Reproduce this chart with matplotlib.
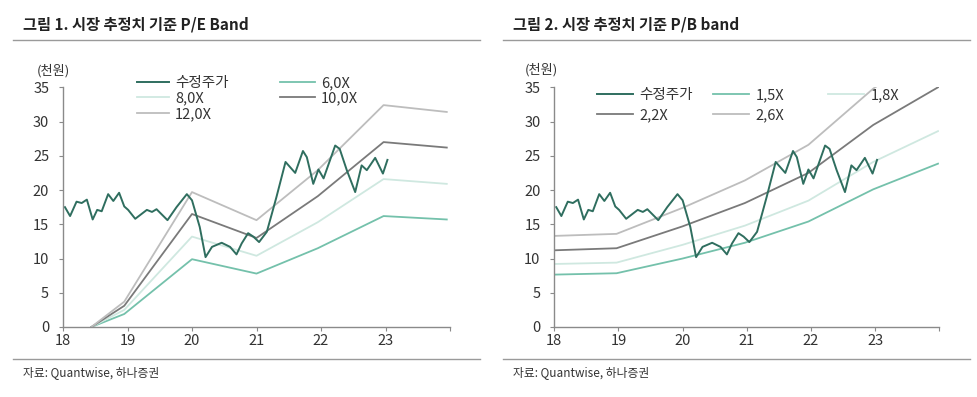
import matplotlib
matplotlib.use('Agg')
import matplotlib.pyplot as plt
from matplotlib.lines import Line2D

plt.rcParams['font.family'] = ['Noto Sans CJK KR', 'DejaVu Sans']

# 수정주가 (천원), 연도 소수점 위치
price_x = [2018.03, 2018.11, 2018.21, 2018.29, 2018.37, 2018.46, 2018.53, 2018.60,
           2018.70, 2018.78, 2018.87, 2018.95, 2019.01, 2019.12, 2019.30, 2019.38,
           2019.45, 2019.62, 2019.76, 2019.92, 2020.00, 2020.12, 2020.21, 2020.31,
           2020.46, 2020.59, 2020.69, 2020.77, 2020.87, 2020.95, 2021.04, 2021.16,
           2021.24, 2021.31, 2021.45, 2021.60, 2021.72, 2021.78, 2021.88, 2021.96,
           2022.04, 2022.22, 2022.29, 2022.40, 2022.53, 2022.63, 2022.71, 2022.84,
           2022.96, 2023.03]
price = [17.5, 16.2, 18.3, 18.1, 18.6, 15.7, 17.1, 16.9,
         19.4, 18.4, 19.6, 17.6, 17.1, 15.8, 17.1, 16.8,
         17.2, 15.6, 17.5, 19.4, 18.5, 14.6, 10.2, 11.7,
         12.3, 11.7, 10.6, 12.2, 13.7, 13.2, 12.4, 13.9,
         16.6, 19.0, 24.1, 22.5, 25.7, 24.8, 20.9, 23.0,
         21.7, 26.5, 26.0, 22.9, 19.7, 23.6, 22.9, 24.7,
         22.4, 24.4]

# P/E band
pe_x = [2018.44, 2018.95, 2020.0, 2021.0, 2021.95, 2022.97, 2023.95]
pe_6 = [0, 1.9, 9.9, 7.8, 11.5, 16.2, 15.7]
pe_8 = [0, 2.5, 13.2, 10.4, 15.3, 21.6, 20.9]
pe_10 = [0, 3.1, 16.5, 13.0, 19.1, 27.0, 26.2]
pe_12 = [0, 3.7, 19.7, 15.6, 22.9, 32.4, 31.4]

# P/B band
pb_x = [2018.0, 2018.97, 2020.0, 2020.97, 2021.96, 2022.97, 2023.98]
pb_15 = [7.65, 7.85, 10.0, 12.3, 15.4, 20.1, 23.85]
pb_18 = [9.2, 9.4, 12.0, 14.8, 18.45, 24.1, 28.6]
pb_22 = [11.2, 11.5, 14.7, 18.1, 22.5, 29.5, 35.0]
pb_26 = [13.3, 13.6, 17.4, 21.4, 26.6, 34.8, 41.3]

year_ticks = [2018, 2019, 2020, 2021, 2022, 2023, 2024]
year_labels = ['18', '19', '20', '21', '22', '23', '']
y_ticks = [0, 5, 10, 15, 20, 25, 30, 35]

C_PRICE = '#2f6e5f'
C_1 = '#74c1ab'
C_2 = '#cfe8e0'
C_3 = '#7a7a7a'
C_4 = '#bdbdbd'
TXT = '#333333'
W, H = 978, 397


def fx(px):
    return px / W


def fy(py):
    return 1 - py / H


def style_axes(ax):
    for s in ['top', 'right']:
        ax.spines[s].set_visible(False)
    for s in ['left', 'bottom']:
        ax.spines[s].set_color('#8a8a8a')
        ax.spines[s].set_linewidth(1.0)
    ax.set_xlim(2018, 2024)
    ax.set_ylim(0, 35)
    ax.set_xticks(year_ticks)
    ax.set_xticklabels(year_labels)
    ax.set_yticks(y_ticks)
    ax.tick_params(axis='y', direction='out', length=3, pad=7, color='#8a8a8a',
                   labelsize=10.5, labelcolor=TXT)
    ax.tick_params(axis='x', direction='out', length=3, pad=2, color='#8a8a8a',
                   labelsize=10.5, labelcolor=TXT)


def add_legend_column(fig, handles, x, y, hlen, spacing):
    fig.legend(handles=handles, loc='upper left', bbox_to_anchor=(fx(x), fy(y)),
               bbox_transform=fig.transFigure, frameon=False, fontsize=10.5,
               handlelength=hlen, handletextpad=0.4, borderpad=0, borderaxespad=0,
               labelspacing=spacing, labelcolor=TXT)


fig = plt.figure(figsize=(W / 100, H / 100), dpi=100)

# ---- 그림 1 ----
ax1 = fig.add_axes([fx(63), fy(327), fx(450 - 63), fy(87.3) - fy(327)])
style_axes(ax1)
h6, = ax1.plot(pe_x, pe_6, color=C_1, lw=1.3, label='6,0X')
h8, = ax1.plot(pe_x, pe_8, color=C_2, lw=1.3, label='8,0X')
h10, = ax1.plot(pe_x, pe_10, color=C_3, lw=1.3, label='10,0X')
h12, = ax1.plot(pe_x, pe_12, color=C_4, lw=1.3, label='12,0X')
hp1, = ax1.plot(price_x, price, color=C_PRICE, lw=1.4, label='수정주가')
add_legend_column(fig, [hp1, h8, h12], 137, 76, 2.2, 0.1)
add_legend_column(fig, [h6, h10], 280, 76, 2.4, 0.1)

# ---- 그림 2 ----
ax2 = fig.add_axes([fx(554.3), fy(327), fx(939.3 - 554.3), fy(87.3) - fy(327)])
style_axes(ax2)
g15, = ax2.plot(pb_x, pb_15, color=C_1, lw=1.3, label='1,5X')
g18, = ax2.plot(pb_x, pb_18, color=C_2, lw=1.3, label='1,8X')
g22, = ax2.plot(pb_x, pb_22, color=C_3, lw=1.3, label='2,2X')
g26, = ax2.plot(pb_x, pb_26, color=C_4, lw=1.3, label='2,6X')
hp2, = ax2.plot(price_x, price, color=C_PRICE, lw=1.4, label='수정주가')
add_legend_column(fig, [hp2, g22], 597, 88, 2.5, 0.45)
add_legend_column(fig, [g15, g26], 713, 88, 2.5, 0.45)
add_legend_column(fig, [g18], 828, 88, 2.5, 0.45)

# titles, rules, notes
for x0, x1, title, tx in [(13, 480, '그림 1. 시장 추정치 기준 P/E Band', 23),
                          (503, 970, '그림 2. 시장 추정치 기준 P/B band', 513)]:
    fig.text(fx(tx), fy(25), title, fontsize=11, fontweight='bold', color='#222222',
             ha='left', va='center')
    fig.add_artist(Line2D([fx(x0), fx(x1)], [fy(40), fy(40)], color='#9a9a9a', lw=1.0))
    fig.add_artist(Line2D([fx(x0), fx(x1)], [fy(359), fy(359)], color='#9a9a9a', lw=1.0))
    fig.text(fx(tx), fy(373), '자료: Quantwise, 하나증권', fontsize=8.5, color=TXT,
             ha='left', va='center')

fig.text(fx(37), fy(71), '(천원)', fontsize=9.5, color=TXT, ha='left', va='center')
fig.text(fx(525), fy(70), '(천원)', fontsize=9.5, color=TXT, ha='left', va='center')

fig.savefig('out.png', dpi=100)
